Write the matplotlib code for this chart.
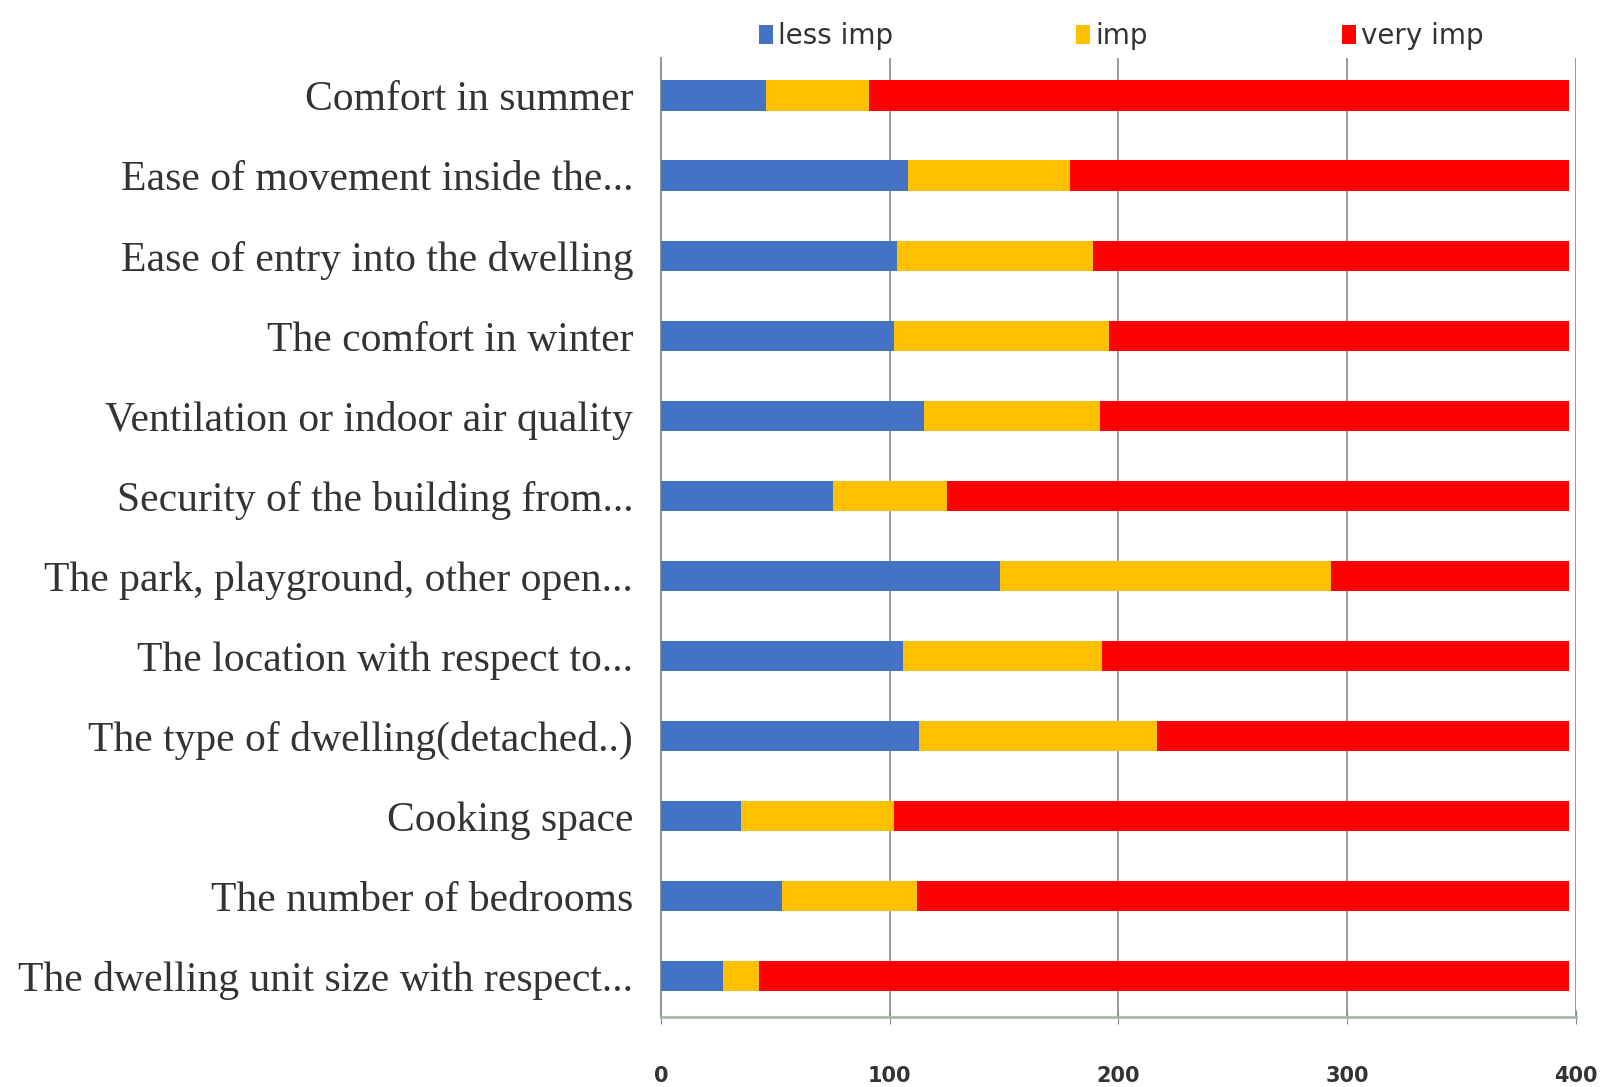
import matplotlib
matplotlib.use("Agg")
import matplotlib.pyplot as plt
import numpy as np

categories = [
    "Comfort in summer",
    "Ease of movement inside the...",
    "Ease of entry into the dwelling",
    "The comfort in winter",
    "Ventilation or indoor air quality",
    "Security of the building from...",
    "The park, playground, other open...",
    "The location with respect to...",
    "The type of dwelling(detached..)",
    "Cooking space",
    "The number of bedrooms",
    "The dwelling unit size with respect...",
]
less_imp = [46, 108, 103, 102, 115, 75, 148, 106, 113, 35, 53, 27]
imp = [45, 71, 86, 94, 77, 50, 145, 87, 104, 67, 59, 16]
very_imp = [306, 218, 208, 201, 205, 272, 104, 204, 180, 295, 285, 354]
series_names = ["less imp", "imp", "very imp"]
xticks = [0, 100, 200, 300, 400]

colors = ["#4472C4", "#FFC000", "#FF0000"]

fig = plt.figure(figsize=(16.08, 10.87), dpi=100)
ax = fig.add_axes([661 / 1608, 1 - 1017 / 1087, (1576 - 661) / 1608, (1017 - 58) / 1087])

y = np.arange(len(categories))
left = np.zeros(len(categories))
handles = []
for vals, col, name in zip([less_imp, imp, very_imp], colors, series_names):
    h = ax.barh(y, vals, left=left, height=0.38, color=col, label=name, zorder=3)
    handles.append(h)
    left = left + np.array(vals)

ax.set_xlim(0, 400)
ax.set_ylim(len(categories) - 1 + 0.51, -0.47)
ax.set_xticks(xticks)
ax.set_xticklabels([str(t) for t in xticks], fontsize=15, fontweight="bold", color="#333333",
                   family="DejaVu Sans")
ax.set_yticks(y)
ax.set_yticklabels(categories, fontsize=30, family="Liberation Serif", color="#333333")
ax.tick_params(axis="y", length=0, pad=20)
ax.tick_params(axis="x", length=10, direction="inout", color="#888888", pad=30)
ax.grid(axis="x", color="#888888", linewidth=1.2, zorder=0)
for s in ["top", "right"]:
    ax.spines[s].set_visible(False)
ax.spines["left"].set_color("#999999")
ax.spines["bottom"].set_color("#aab8aa")
ax.spines["left"].set_linewidth(1.5)
ax.spines["bottom"].set_linewidth(2)

# legend entries placed individually to match the reference spacing
leg_x = [826, 1112, 1413]
for h, name, lx in zip(handles, series_names, leg_x):
    leg = fig.legend(handles=[h], labels=[name], loc="center",
                     bbox_to_anchor=(lx / 1608, 1 - 36 / 1087), frameon=False,
                     prop={"family": "DejaVu Sans", "size": 20},
                     handlelength=0.5, handleheight=0.7, handletextpad=0.2)
    for t in leg.get_texts():
        t.set_color("#333333")

fig.savefig("out.png", dpi=100, facecolor="white")
